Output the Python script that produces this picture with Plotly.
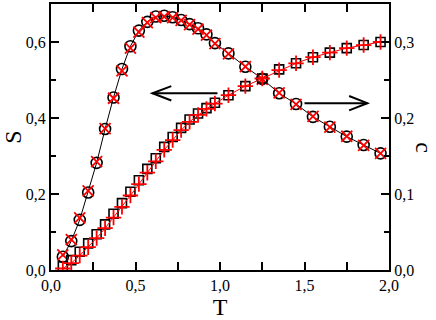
import plotly.graph_objects as go

# temperature grid shared by all four series
T = [0.07, 0.12, 0.17, 0.22, 0.27, 0.32, 0.37, 0.42, 0.47, 0.52,
     0.57, 0.62, 0.67, 0.72, 0.77, 0.82, 0.87, 0.92, 0.97,
     1.05, 1.15, 1.25, 1.35, 1.45, 1.55, 1.65, 1.75, 1.85, 1.95]

# S (left axis): black circles and red crosses
S_circ = [0.035, 0.076, 0.132, 0.204, 0.282, 0.371, 0.454, 0.529, 0.589, 0.630,
          0.653, 0.667, 0.669, 0.665, 0.658, 0.647, 0.636, 0.620, 0.597,
          0.570, 0.535, 0.503, 0.465, 0.437, 0.403, 0.377, 0.351, 0.329, 0.307]
S_red = [0.040, 0.080, 0.137, 0.208, 0.285, 0.372, 0.452, 0.524, 0.584, 0.626,
         0.651, 0.664, 0.667, 0.664, 0.657, 0.646, 0.634, 0.618, 0.596,
         0.569, 0.535, 0.502, 0.466, 0.436, 0.404, 0.376, 0.352, 0.328, 0.307]

# c (right axis): black squares and red plus signs
c_sq = [0.005, 0.013, 0.024, 0.035, 0.047, 0.060, 0.074, 0.088, 0.103, 0.118,
        0.133, 0.147, 0.162, 0.175, 0.187, 0.198, 0.206, 0.213, 0.220,
        0.230, 0.242, 0.252, 0.264, 0.272, 0.280, 0.286, 0.292, 0.296, 0.300]
c_red = [0.002, 0.009, 0.019, 0.030, 0.042, 0.055, 0.069, 0.083, 0.098, 0.113,
         0.128, 0.143, 0.158, 0.171, 0.184, 0.195, 0.204, 0.212, 0.219,
         0.230, 0.242, 0.252, 0.263, 0.272, 0.280, 0.286, 0.292, 0.296, 0.300]

FONT = "Times New Roman, Liberation Serif, serif"

fig = go.Figure()
fig.add_trace(go.Scatter(x=T, y=S_circ, mode="lines+markers",
                         line=dict(color="black", width=1),
                         marker=dict(symbol="circle-open", size=11, color="black",
                                     line=dict(width=1.6))))
fig.add_trace(go.Scatter(x=T, y=S_red, mode="markers",
                         marker=dict(symbol="x-thin-open", size=11, color="red",
                                     line=dict(width=1.8, color="red"))))
fig.add_trace(go.Scatter(x=T, y=c_sq, mode="markers", yaxis="y2",
                         marker=dict(symbol="square-open", size=9, color="black",
                                     line=dict(width=1.6))))
fig.add_trace(go.Scatter(x=T, y=c_red, mode="lines+markers", yaxis="y2",
                         line=dict(color="red", width=1),
                         marker=dict(symbol="cross-thin-open", size=11, color="red",
                                     line=dict(width=1.8, color="red"))))

# arrows pointing to the axis each curve belongs to
def arrow(x0, x1, y, head):
    fig.add_shape(type="line", x0=x0, x1=x1, y0=y, y1=y, xref="x", yref="y",
                  line=dict(color="black", width=2))
    fig.add_shape(type="path", xref="x", yref="y",
                  path=f"M {x1 + head},{y + 0.019} L {x1},{y} L {x1 + head},{y - 0.019}",
                  line=dict(color="black", width=2))

arrow(0.985, 0.60, 0.465, 0.112)
arrow(1.50, 1.872, 0.439, -0.108)

axis_common = dict(showline=True, linewidth=2, linecolor="black",
                   ticks="inside", ticklen=8, tickwidth=2, tickcolor="black",
                   showgrid=False, zeroline=False, automargin=False,
                   tickfont=dict(family=FONT, size=16, color="black"))

fig.update_layout(
    width=436, height=320,
    margin=dict(l=51, r=47, t=4, b=50),
    plot_bgcolor="white", paper_bgcolor="white",
    showlegend=False,
    separators=", ",
    font=dict(family=FONT, color="black"),
    xaxis=dict(range=[0, 2], dtick=0.5, tickformat=".1f", mirror="allticks",
               minor=dict(dtick=0.25, ticks="inside", ticklen=5, tickwidth=2, tickcolor="black"),
               title=dict(text="T", font=dict(family=FONT, size=24), standoff=2),
               **axis_common),
    yaxis=dict(range=[0, 0.7], dtick=0.2, tickformat=".1f",
               minor=dict(dtick=0.1, ticks="inside", ticklen=5, tickwidth=2, tickcolor="black"),
               title=dict(text="S", font=dict(family=FONT, size=24), standoff=6),
               **axis_common),
    yaxis2=dict(range=[0, 0.35], dtick=0.1, tickformat=".1f", overlaying="y", side="right",
                minor=dict(dtick=0.05, ticks="inside", ticklen=5, tickwidth=2, tickcolor="black"),
                **axis_common),
)

fig.add_annotation(text="c", xref="paper", yref="paper", x=1.105, y=0.46,
                   xanchor="center", yanchor="middle",
                   showarrow=False, textangle=90,
                   font=dict(family=FONT, size=24, color="black"))

fig.write_html("out.html", config={"displayModeBar": False},
               post_script="document.body.style.margin='0';")
